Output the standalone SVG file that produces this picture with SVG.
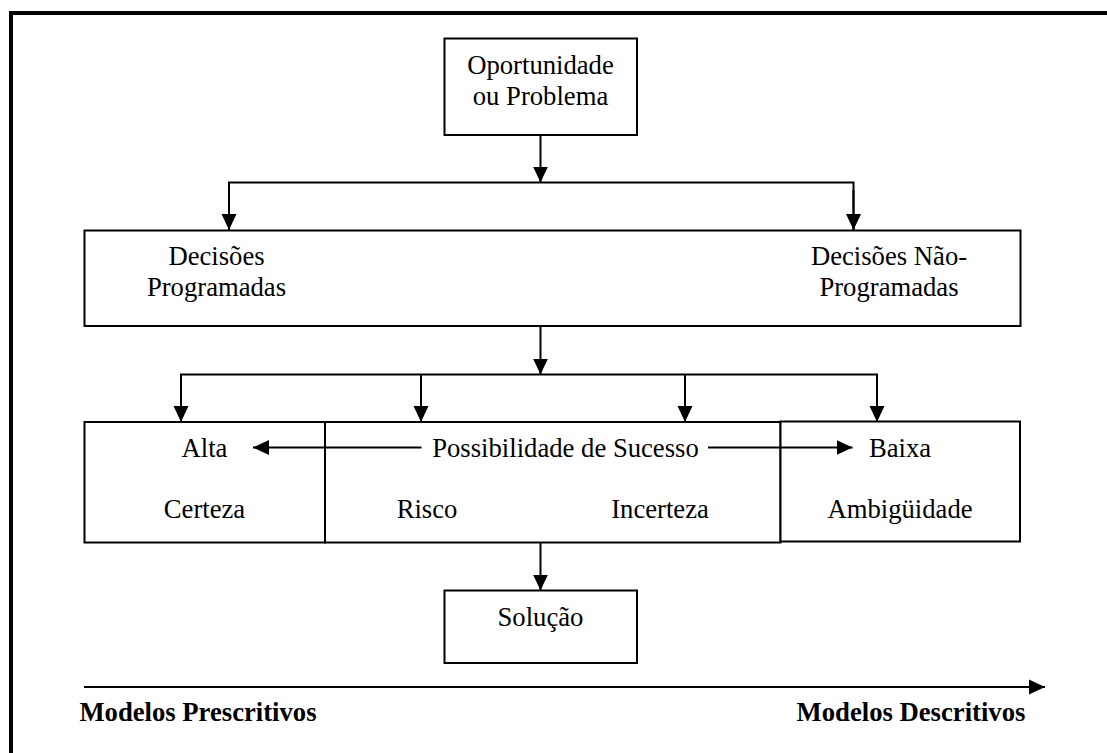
<svg xmlns="http://www.w3.org/2000/svg" width="1107" height="753" viewBox="0 0 1107 753">
  <defs>
    <marker id="arrow" markerUnits="userSpaceOnUse" markerWidth="16" markerHeight="16" refX="16" refY="7.5" orient="auto" viewBox="0 0 16 15">
      <path d="M0,0 L16,7.5 L0,15 z" fill="#000"/>
    </marker>
    <style>
      .box { fill: #fff; stroke: #000; stroke-width: 2; }
      .lbl { font-family: "Liberation Serif", "Times New Roman", serif; font-size: 26.67px; fill: #000; text-anchor: middle; }
      .bold { font-weight: bold; }
      .wire { fill: none; stroke: #000; stroke-width: 2; }
      .tip { marker-end: url(#arrow); }
    </style>
  </defs>

  <rect x="0" y="0" width="1107" height="753" fill="#fff"/>

  <!-- page frame -->
  <path d="M11,753 V13 H1107" fill="none" stroke="#000" stroke-width="4"/>

  <g id="oportunidade">
    <rect class="box" x="444.5" y="38.5" width="192.5" height="96.5"/>
    <text class="lbl" x="540.5" y="74">Oportunidade</text>
    <text class="lbl" x="540.5" y="105">ou Problema</text>
  </g>

  <g id="decisoes">
    <rect class="box" x="84.5" y="230.5" width="936" height="95.5"/>
    <text class="lbl" x="216.5" y="265">Decisões</text>
    <text class="lbl" x="216.5" y="295.5">Programadas</text>
    <text class="lbl" x="889" y="265">Decisões Não-</text>
    <text class="lbl" x="889" y="295.5">Programadas</text>
  </g>

  <g id="alta">
    <rect class="box" x="84.5" y="422" width="240.5" height="120.5"/>
    <text class="lbl" x="204.5" y="457">Alta</text>
    <text class="lbl" x="204.5" y="518">Certeza</text>
  </g>

  <g id="possibilidade">
    <rect class="box" x="325" y="422" width="455.5" height="120.5"/>
    <text class="lbl" x="565.5" y="457">Possibilidade de Sucesso</text>
    <text class="lbl" x="427" y="518">Risco</text>
    <text class="lbl" x="660" y="518">Incerteza</text>
  </g>

  <g id="baixa">
    <rect class="box" x="780.5" y="421.5" width="239.5" height="120"/>
    <text class="lbl" x="900" y="457">Baixa</text>
    <text class="lbl" x="900" y="518">Ambigüidade</text>
  </g>

  <g id="solucao">
    <rect class="box" x="444.5" y="590.5" width="192.5" height="72.5"/>
    <text class="lbl" x="540.5" y="626">Solução</text>
  </g>

  <g id="connectors">
    <!-- problem to decision types -->
    <line class="wire tip" x1="540.5" y1="135" x2="540.5" y2="182.5"/>
    <path class="wire" d="M229,230 V182.5 H853.5 V230"/>
    <line class="wire tip" x1="229" y1="190" x2="229" y2="230"/>
    <line class="wire tip" x1="853.5" y1="190" x2="853.5" y2="230"/>

    <!-- decision types to success levels -->
    <line class="wire tip" x1="540.5" y1="326" x2="540.5" y2="374.5"/>
    <path class="wire" d="M181,421 V374.5 H877 V421"/>
    <line class="wire tip" x1="181" y1="380" x2="181" y2="422"/>
    <line class="wire tip" x1="421" y1="374.5" x2="421" y2="422"/>
    <line class="wire tip" x1="685" y1="374.5" x2="685" y2="422"/>
    <line class="wire tip" x1="877" y1="380" x2="877" y2="422"/>

    <!-- success scale -->
    <line class="wire tip" x1="421.5" y1="447.5" x2="253" y2="447.5"/>
    <line class="wire tip" x1="708" y1="447.5" x2="852.5" y2="447.5"/>

    <!-- to solution -->
    <line class="wire tip" x1="540.5" y1="542.5" x2="540.5" y2="590.5"/>

    <!-- model axis -->
    <line class="wire tip" x1="84" y1="687" x2="1045" y2="687"/>
  </g>

  <g id="axis-labels">
    <text class="lbl bold" x="198" y="721">Modelos Prescritivos</text>
    <text class="lbl bold" x="911" y="721">Modelos Descritivos</text>
  </g>
</svg>
